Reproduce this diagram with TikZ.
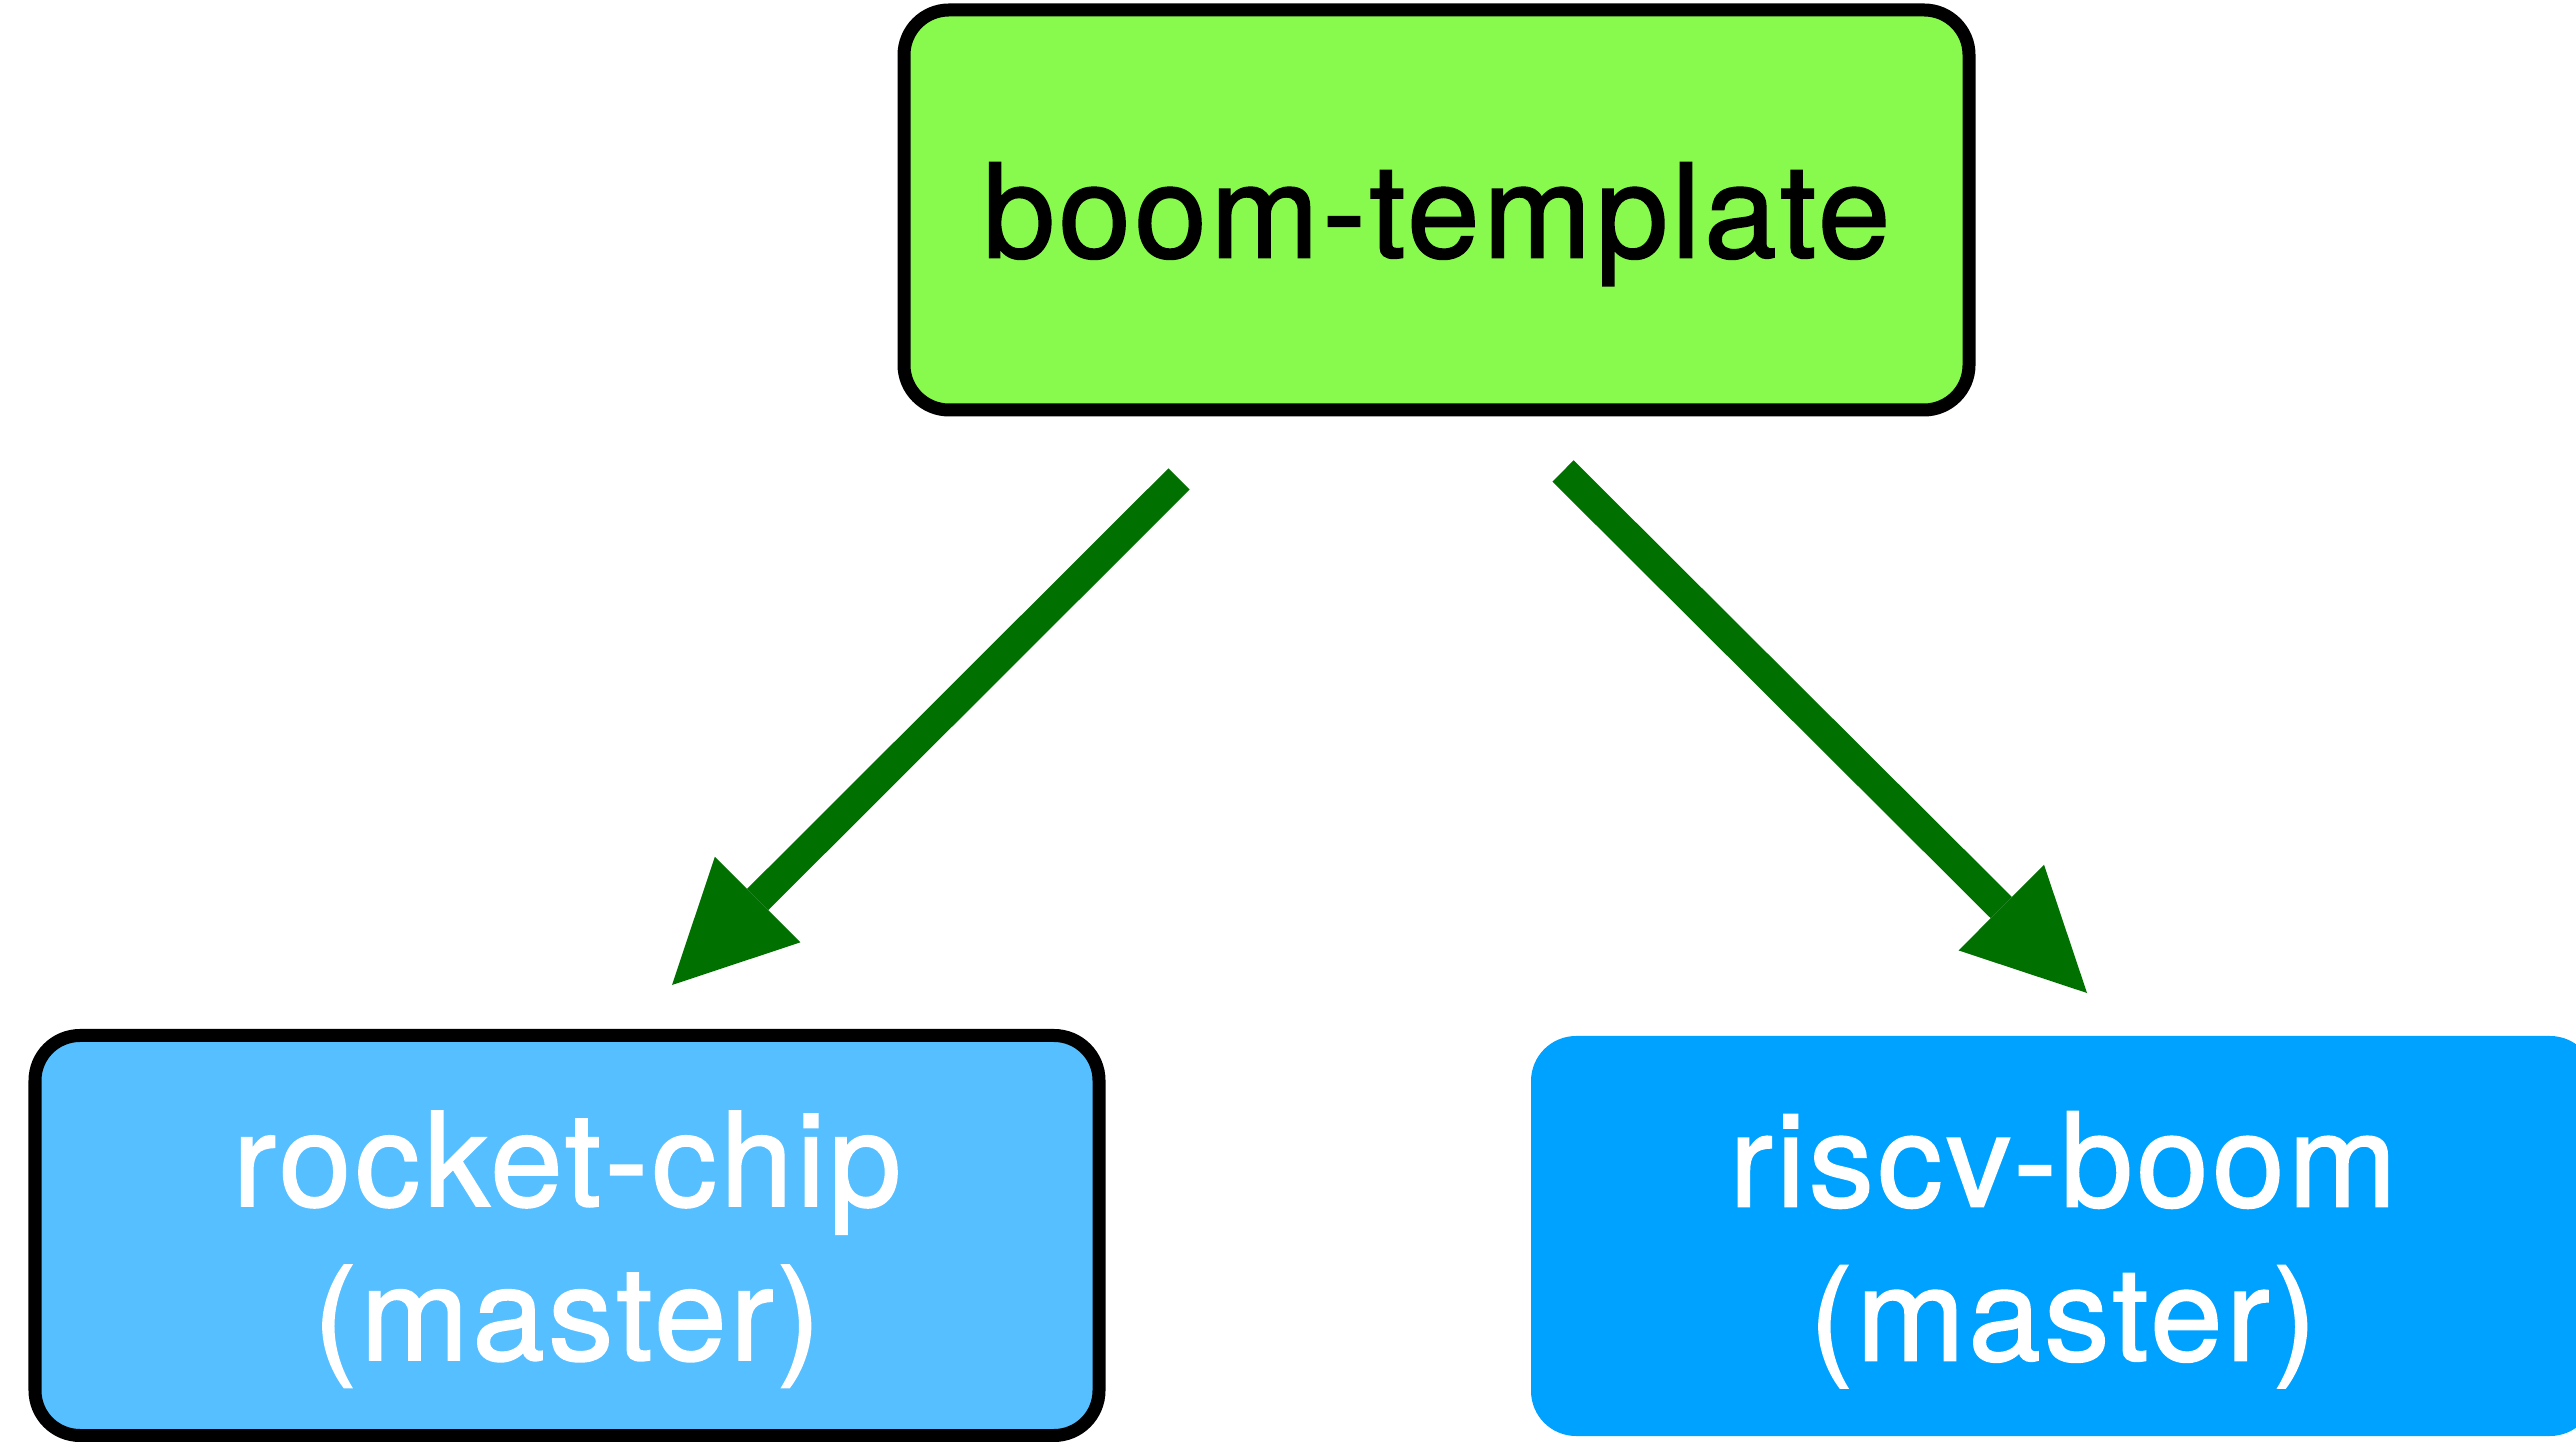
\documentclass[tikz,border=0pt]{standalone}
\usepackage{fontspec}
\setmainfont{TeX Gyre Heros}
\newfontfamily\repofont{TeX Gyre Heros}[FakeBold=1.4, LetterSpace=2.8]
\usetikzlibrary{arrows.meta}
\definecolor{templategreen}{RGB}{136,250,78}
\definecolor{rocketblue}{RGB}{86,191,255}
\definecolor{boomblue}{RGB}{0,162,255}
\definecolor{forkgreen}{RGB}{0,112,0}
\begin{document}
\begin{tikzpicture}[
  repo/.style={rectangle, rounded corners=0.45cm, minimum width=10.64cm, minimum height=4cm,
    align=center, text depth=0pt, font=\repofont\fontsize{37}{43.8}\selectfont},
  framed/.style={draw, line width=0.13cm},
  fork/.style={line width=0.3cm, forkgreen, -{Triangle[length=1.21cm, width=1.21cm, line width=0pt]}}
]
  \useasboundingbox (0,0) rectangle (25.76,14.41);
  \node[repo, framed, fill=templategreen, minimum width=10.65cm] (template) at (14.365,12.31) {boom-template};
  \node[repo, framed, fill=rocketblue, text=white] (rocket) at (5.67,2.055) {rocket-chip\\(master)};
  \node[repo, fill=boomblue, text=white] (boom) at (20.63,2.05) {riscv-boom\\(master)};
  \coordinate (rocketTail) at (11.79,9.62);
  \coordinate (rocketTip) at (6.72,4.56);
  \coordinate (boomTail) at (15.63,9.70);
  \coordinate (boomTip) at (20.87,4.48);
  \foreach \from/\to in {rocketTail/rocketTip, boomTail/boomTip}
    \draw[fork] (\from) -- (\to);
\end{tikzpicture}
\end{document}
